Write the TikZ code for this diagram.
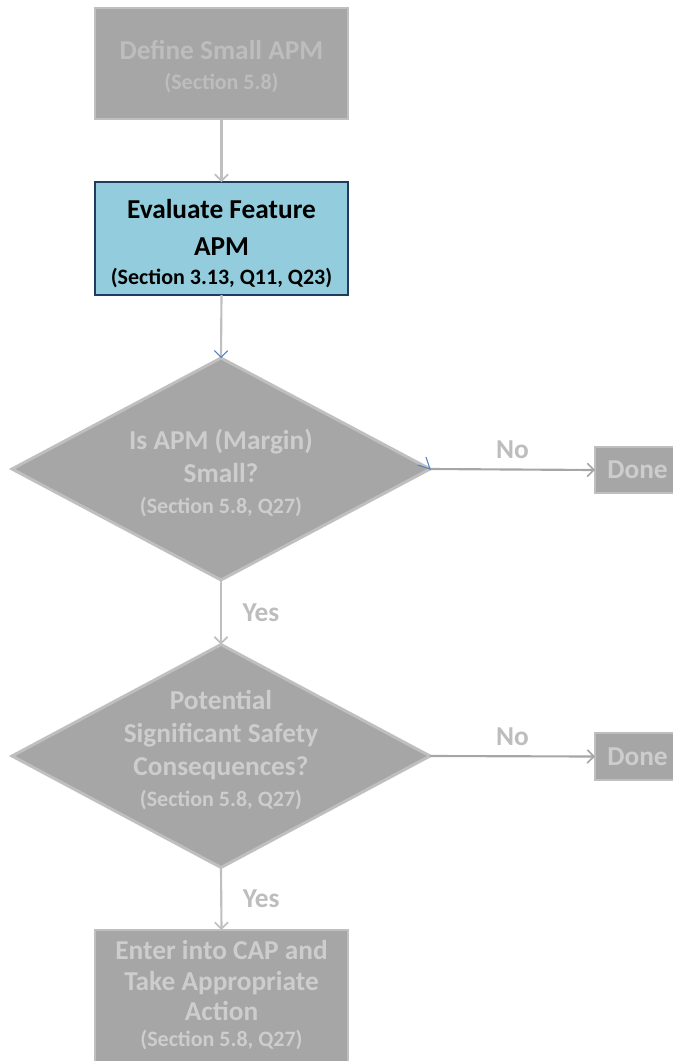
\documentclass[tikz,border=0pt]{standalone}
\usepackage{fontspec}
\setmainfont{Carlito}
\usetikzlibrary{shapes.geometric,arrows.meta}
\definecolor{boxgray}{HTML}{A6A6A6}
\definecolor{edgegray}{HTML}{BFBFBF}
\definecolor{txtgray}{HTML}{CDCDCD}
\definecolor{lblgray}{HTML}{BDBDBD}
\definecolor{linegray}{HTML}{A6A6A6}
\definecolor{evalblue}{HTML}{93CDDD}
\definecolor{navy}{HTML}{1F3B5E}
\definecolor{tipblue}{HTML}{4F81BD}
\newcommand\bigtxt{\fontsize{20.5pt}{25pt}\selectfont\bfseries}
\newcommand\smtxt{\fontsize{16.5pt}{20pt}\selectfont\bfseries}
\begin{document}
\begin{tikzpicture}[x=0.75pt,y=-0.75pt,
  graybox/.style={draw=edgegray, line width=2pt, fill=boxgray, text=txtgray,
    align=center, inner sep=0pt, outer sep=0pt, font=\bigtxt},
  evalbox/.style={draw=navy, line width=2.2pt, fill=evalblue, text=black,
    align=center, inner sep=0pt, outer sep=0pt, font=\bigtxt},
  decide/.style={diamond, draw=edgegray, line width=2.2pt, fill=boxgray,
    inner sep=0pt, outer sep=0pt},
  boxtext/.style={align=center, font=\bigtxt, inner sep=0pt},
  conn/.style={draw=edgegray, line width=1.6pt,
    -{Straight Barb[length=5pt,width=10pt,line width=1.2pt]}},
  connh/.style={draw=linegray, line width=1.6pt,
    -{Straight Barb[length=5pt,width=10pt,line width=1.2pt]}},
  lbl/.style={text=lblgray, font=\bigtxt}]
\useasboundingbox (0,0) rectangle (673,1061);
\clip (0,0) rectangle (673,1061);

% boxes
\node[graybox, minimum width=189.75pt, minimum height=83.25pt] (box1) at (221.5,63.5) {};
\node[boxtext, text=lblgray] (t0) at (221.5,66.5) {Define Small APM\\[-2pt]{\smtxt (Section 5.8)}};
\node[evalbox, minimum width=189.75pt, minimum height=84.75pt] (box2) at (221.5,238.5) {};
\node[boxtext, text=black] (te) at (221.5,243.5)
  {Evaluate Feature\\[3pt]APM\\[-3pt]{\smtxt (Section 3.13, Q11, Q23)}};

% decisions
\node[decide, minimum width=313.5pt, minimum height=166.5pt] (d1) at (221,469) {};
\node[boxtext, text=txtgray] (t1) at (221,473) {Is APM (Margin)\\Small?\\[-2pt]{\smtxt (Section 5.8, Q27)}};
\node[decide, minimum width=313.5pt, minimum height=167.25pt] (d2) at (221,756) {};
\node[boxtext, text=txtgray] (t2) at (221,750) {Potential\\Significant Safety\\Consequences?\\[-2pt]{\smtxt (Section 5.8, Q27)}};

% done boxes
\node[graybox, minimum width=63.75pt, minimum height=34.5pt] (done1) at (637.5,470) {Done};
\node[graybox, minimum width=63.75pt, minimum height=35.25pt] (done2) at (637.5,756.5) {Done};

% final box
\node[graybox, minimum width=189.75pt, minimum height=102pt] (final) at (221.5,998) {};
\node[boxtext, text=txtgray] (tf) at (221.5,995)
  {Enter into CAP and\\[-2pt]Take Appropriate\\[-2pt]Action\\[-6pt]{\smtxt (Section 5.8, Q27)}};

% connectors
\draw[conn] (box1.south) -- (box2.north);
\draw[conn, -{Straight Barb[length=5pt,width=10pt,line width=0.8pt,color=tipblue]}]
  (box2.south) -- (d1.north);
\draw[connh] (d1.east) -- (done1.west)
  node[lbl, midway, above=4pt] (no1) {No};
\draw[conn] (d1.south) -- (d2.north)
  node[lbl, midway, anchor=west, xshift=12pt] (yes1) {Yes};
\draw[connh] (d2.east) -- (done2.west)
  node[lbl, midway, above=4pt] (no2) {No};
\draw[conn] (d2.south) -- (final.north)
  node[lbl, midway, anchor=west, xshift=12pt] (yes2) {Yes};

% small blue mark at right vertex of first decision
\draw[tipblue, line width=0.8pt] (426,457) -- (d1.east) -- (418,465);
\end{tikzpicture}
\end{document}
